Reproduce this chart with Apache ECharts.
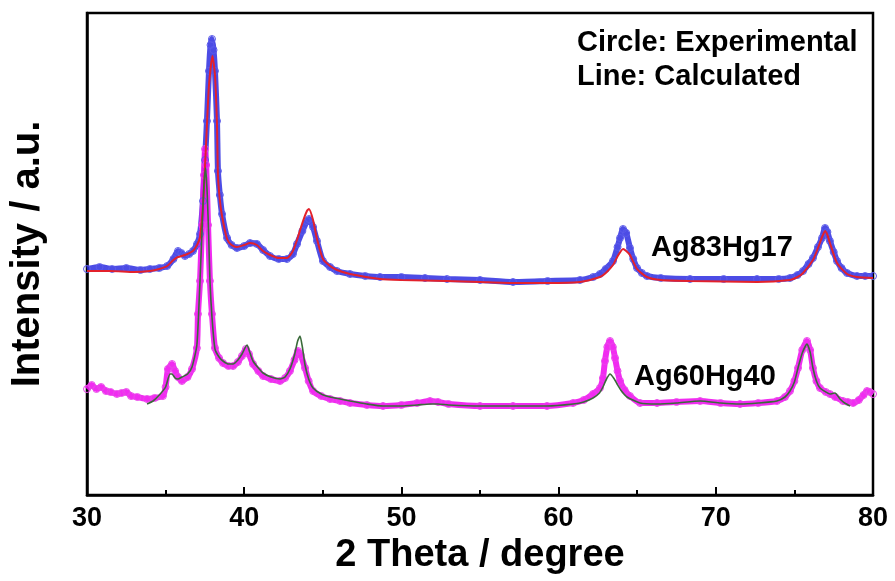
<!DOCTYPE html>
<html>
<head>
<meta charset="utf-8">
<script src="https://cdn.jsdelivr.net/npm/echarts@6/dist/echarts.min.js"></script>
<style>
html,body{margin:0;padding:0;background:#fff;}
#chart{width:895px;height:581px;}
</style>
</head>
<body>
<div id="chart"></div>
<script>
// 2 Theta tick labels
const xTicks = [30, 40, 50, 60, 70, 80];

// Ag83Hg17 experimental (circles)
const ag83ExpTheta = [30.0,30.8,31.6,32.5,33.4,34.0,34.6,35.1,35.5,35.79,36.0,36.23,36.5,36.74,37.0,37.19,37.38,37.51,37.63,37.76,37.86,37.95,38.05,38.14,38.27,38.33,38.45,38.59,38.91,39.2,39.54,40.0,40.37,40.81,41.2,41.64,42.2,42.72,43.1,43.36,43.7,43.99,44.12,44.38,44.63,45.01,45.46,45.9,46.73,47.7,48.64,50.0,51.5,52.9,55.0,57.1,59.3,61.36,62.2,62.63,63.0,63.46,63.75,63.91,64.1,64.3,64.54,64.75,64.99,65.3,65.62,66.5,68.36,70.5,72.62,74.0,74.72,75.2,75.55,75.9,76.18,76.5,76.76,76.95,77.1,77.26,77.5,77.71,78.0,78.35,78.98,79.5,80.0];
const ag83ExpI = [226,228,226,227,225,226,227,229,236,244,242,239,241,244,251,261,294,335,374,424,450,456,445,424,374,324,300,281,257,250,247,249,252,251,245,239,236,236,241,251,264,274,276,268,254,234,228,224,221,219,218,218,217,216,215,213,214,215,218,221,226,234,248,257,266,262,247,236,227,222,219,217,216,216,216,216,217,220,224,231,237,248,257,267,263,254,243,234,227,222,219,219,219];

// Ag83Hg17 calculated (line)
const ag83CalcTheta = [30.0,31.5,33.0,34.0,34.6,35.1,35.5,35.79,36.23,36.74,37.0,37.19,37.38,37.51,37.63,37.76,37.98,38.14,38.27,38.33,38.45,38.59,38.91,39.2,39.54,40.0,40.37,40.81,41.2,41.64,42.2,42.72,43.1,43.36,43.7,43.99,44.12,44.38,44.63,45.01,45.46,45.9,46.73,48.64,50.0,52.9,55.0,57.1,59.3,61.36,62.63,63.0,63.46,63.8,64.1,64.3,64.54,64.99,65.62,66.5,68.36,72.62,74.72,75.2,75.55,76.18,76.5,76.76,76.95,77.1,77.26,77.71,78.35,78.98,80.0];
const ag83CalcI = [224,224,223,224,226,229,235,238,240,244,250,258,290,330,370,410,439,420,370,320,295,279,256,250,248,250,252,250,244,240,237,237,244,255,272,284,286,275,256,236,229,225,221,216,215,214,213,212,212,213,218,222,230,240,246,244,240,226,218,215,214,213,215,218,222,235,247,258,264,260,252,232,221,218,217];

// Ag60Hg40 experimental (circles)
const ag60ExpTheta = [30.0,30.3,30.6,30.9,31.2,31.5,31.9,32.2,32.5,32.8,33.2,33.82,34.3,34.83,35.0,35.15,35.41,35.6,35.79,36.04,36.4,36.68,36.99,37.06,37.19,37.32,37.44,37.51,37.58,37.7,37.82,37.95,38.14,38.4,38.65,39.0,39.29,39.6,39.86,40.11,40.3,40.56,40.9,41.2,41.7,42.28,42.6,42.91,43.2,43.42,43.6,43.87,44.1,44.38,44.9,45.46,46.1,46.73,47.8,48.83,50.0,51.0,51.82,52.33,53.0,55.0,57.1,59.26,60.92,61.6,62.19,62.63,62.82,62.95,63.1,63.27,63.45,63.59,63.75,63.91,64.2,64.54,65.18,66.26,67.5,69.0,70.3,71.54,72.7,73.89,74.4,74.72,75.0,75.23,75.5,75.8,76.0,76.18,76.4,76.63,77.0,77.26,77.6,78.09,78.4,78.73,79.1,79.4,79.62,79.8,80.0];
const ag60ExpI = [106,110,106,108,104,103,101,102,103,99,98,96,97,99,108,126,131,124,118,114,118,126,147,181,214,270,320,346,330,270,214,181,147,137,132,129,129,133,139,146,141,131,124,119,116,114,117,124,135,144,140,127,114,104,99,96,94,92,90,89,90,92,94,93,91,89,89,89,92,95,101,107,117,134,148,154,148,137,124,114,105,99,92,92,93,94,92,91,92,94,98,104,114,127,145,154,145,127,114,107,103,101,98,94,93,92,95,100,104,103,101];

// Ag60Hg40 calculated (line)
const ag60CalcTheta = [33.82,34.2,34.6,35.0,35.28,35.41,35.6,35.79,36.04,36.4,36.68,36.99,37.19,37.32,37.44,37.55,37.65,37.74,37.82,37.95,38.14,38.4,38.65,39.0,39.29,39.6,39.86,40.18,40.35,40.56,40.9,41.2,41.7,42.28,42.6,42.91,43.2,43.4,43.55,43.7,43.87,44.1,44.38,44.9,45.46,46.1,46.73,47.8,48.83,50.0,51.0,51.82,52.33,53.0,55.0,57.1,59.26,60.92,61.6,62.19,62.6,62.82,63.05,63.27,63.5,63.72,64.0,64.35,65.18,66.26,67.5,69.0,70.3,71.54,72.7,73.89,74.4,74.72,75.0,75.23,75.5,75.8,76.0,76.18,76.4,76.63,77.0,77.26,77.58,77.9,78.2,78.54];
const ag60CalcI = [91,94,100,108,121,121,117,116,118,121,128,150,215,265,310,327,300,260,215,178,146,138,134,131,131,135,141,150,143,134,127,122,118,116,118,126,140,154,159,148,130,116,107,101,98,96,94,91,89,89,90,91,91,90,89,89,89,91,93,97,102,108,116,121,117,111,104,98,92,91,92,94,92,91,92,94,98,104,113,127,142,151,143,127,114,107,103,101,102,96,92,89];

const zip = (xs, ys) => xs.map((x, i) => [x, ys[i]]);

const chart = echarts.init(document.getElementById('chart'), null, {renderer: 'canvas'});
const boldFont = 'Liberation Sans, Arial, sans-serif';
const txtFont = 'bold 29px Liberation Sans, Arial, sans-serif';

chart.setOption({
  animation: false,
  backgroundColor: '#ffffff',
  grid: {
    left: 87, right: 22, top: 13, bottom: 86,
    show: true, borderColor: '#000', borderWidth: 2.5, backgroundColor: 'transparent'
  },
  xAxis: {
    type: 'value', min: xTicks[0], max: xTicks[xTicks.length - 1], interval: 10,
    name: '2 Theta / degree', nameLocation: 'middle', nameGap: 39,
    nameTextStyle: {fontFamily: boldFont, fontWeight: 'bold', fontSize: 38, color: '#000'},
    axisLine: {show: true, lineStyle: {color: '#000', width: 2.5}},
    axisTick: {show: true, inside: true, length: 8, lineStyle: {color: '#000', width: 2}},
    minorTick: {show: true, splitNumber: 2, length: 5, lineStyle: {color: '#000', width: 2}},
    axisLabel: {fontFamily: boldFont, fontWeight: 'bold', fontSize: 27, color: '#000', margin: 10},
    splitLine: {show: false}
  },
  yAxis: {
    type: 'value', min: 0, max: 482,
    name: 'Intensity / a.u.', nameLocation: 'middle', nameGap: 39,
    nameTextStyle: {fontFamily: boldFont, fontWeight: 'bold', fontSize: 40, color: '#000'},
    axisLine: {show: true, lineStyle: {color: '#000', width: 2.5}},
    axisTick: {show: false}, axisLabel: {show: false}, splitLine: {show: false}
  },
  series: [
    {
      name: 'Ag83Hg17 exp', type: 'line', data: zip(ag83ExpTheta, ag83ExpI),
      smooth: 0.2, symbol: 'circle', symbolSize: 7, showAllSymbol: true,
      lineStyle: {color: 'rgba(45,45,225,0.85)', width: 6},
      itemStyle: {color: 'rgba(0,0,0,0)', borderColor: '#5a5aea', borderWidth: 1}, z: 2
    },
    {
      name: 'Ag60Hg40 exp', type: 'line', data: zip(ag60ExpTheta, ag60ExpI),
      smooth: 0.2, symbol: 'circle', symbolSize: 7, showAllSymbol: true,
      lineStyle: {color: 'rgba(240,20,240,0.9)', width: 6},
      itemStyle: {color: 'rgba(0,0,0,0)', borderColor: '#ea44ea', borderWidth: 1}, z: 2
    },
    {
      name: 'Ag83Hg17 calc', type: 'line', data: zip(ag83CalcTheta, ag83CalcI),
      smooth: 0.2, symbol: 'none', lineStyle: {color: '#e3212b', width: 2}, z: 3
    },
    {
      name: 'Ag60Hg40 calc', type: 'line', data: zip(ag60CalcTheta, ag60CalcI),
      smooth: 0.2, symbol: 'none', lineStyle: {color: '#3a6a3a', width: 1.6}, z: 3
    }
  ],
  graphic: [
    {type: 'text', left: 577, top: 28, style: {text: 'Circle: Experimental', font: txtFont, fill: '#000'}},
    {type: 'text', left: 577, top: 62, style: {text: 'Line: Calculated', font: txtFont, fill: '#000'}},
    {type: 'text', left: 651, top: 233, style: {text: 'Ag83Hg17', font: txtFont, fill: '#000'}},
    {type: 'text', left: 634, top: 362, style: {text: 'Ag60Hg40', font: txtFont, fill: '#000'}}
  ]
});
</script>
</body>
</html>
